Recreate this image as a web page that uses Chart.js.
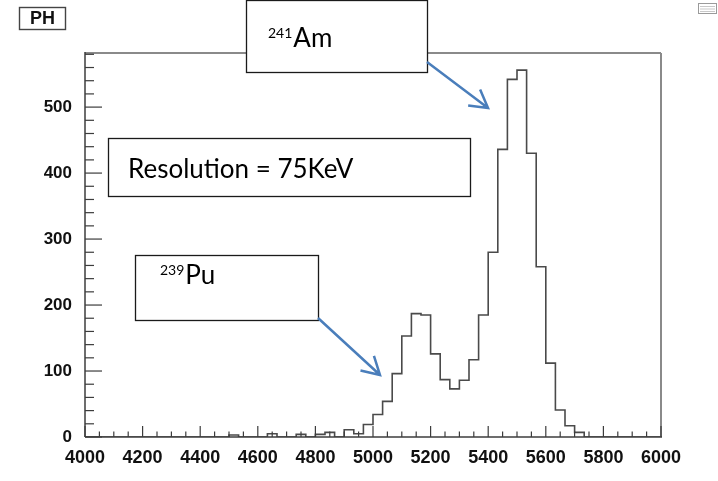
<!DOCTYPE html>
<html>
<head>
<meta charset="utf-8">
<title>PH</title>
<script src="https://cdn.jsdelivr.net/npm/chart.js@4.4.1/dist/chart.umd.min.js"></script>
<style>
  html, body { margin: 0; padding: 0; background: #fff; }
  #wrap { width: 718px; height: 481px; }
</style>
</head>
<body>
<div id="wrap"><canvas id="phChart" width="718" height="481"></canvas></div>
<script>
// pulse height histogram: 60 bins between 4000 and 6000
const binLow = 4000;
const binHigh = 6000;
const counts = [
  0, 0, 0, 0, 0, 0, 0, 0, 0, 0,
  0, 0, 0, 0, 0, 3, 0, 0, 0, 5,
  0, 0, 4, 0, 4, 7, 0, 11, 5, 19,
  34, 54, 96, 153, 187, 185, 126, 87, 73, 86,
  117, 185, 280, 436, 542, 556, 430, 258, 112, 41,
  17, 7, 0, 0, 0, 0, 0, 0, 0, 0
];
const xLabels = [4000, 4200, 4400, 4600, 4800, 5000, 5200, 5400, 5600, 5800, 6000];
const yLabels = [0, 100, 200, 300, 400, 500];
const yTop = 582;

// left edge of each bin, plus the closing edge so the last step gets drawn
const binWidth = (binHigh - binLow) / counts.length;
const points = counts.map((c, i) => ({ x: binLow + i * binWidth, y: c }));
points.push({ x: binHigh, y: counts[counts.length - 1] });

const AXIS_FONT = 'Liberation Sans, Arial, sans-serif';
const BOX_FONT = 'Lato, Carlito, sans-serif';

function line(ctx, x1, y1, x2, y2) {
  ctx.beginPath();
  ctx.moveTo(x1, y1);
  ctx.lineTo(x2, y2);
  ctx.stroke();
}

// ROOT style frame with ticks pointing inwards
const rootFrame = {
  id: 'rootFrame',
  afterDatasetsDraw(chart) {
    const { ctx, chartArea: a, scales: { x, y } } = chart;
    ctx.save();
    ctx.lineCap = 'butt';
    ctx.strokeStyle = '#8a8a8a';
    ctx.lineWidth = 2;
    line(ctx, a.left, a.top, a.right, a.top);
    line(ctx, a.right, a.top, a.right, a.bottom);
    ctx.strokeStyle = '#3c3c3c';
    ctx.lineWidth = 1.5;
    line(ctx, a.left, a.top - 1, a.left, a.bottom);
    line(ctx, a.left, a.bottom, a.right + 1, a.bottom);

    ctx.lineWidth = 1.2;
    x.ticks.forEach(t => {
      const px = x.getPixelForValue(t.value);
      const len = xLabels.includes(t.value) ? 11 : 5.5;
      line(ctx, px, a.bottom, px, a.bottom - len);
    });
    y.ticks.forEach(t => {
      const py = y.getPixelForValue(t.value);
      const len = yLabels.includes(t.value) ? 17 : 9;
      line(ctx, a.left, py, a.left + len, py);
    });
    ctx.restore();
  }
};

function arrow(ctx, x1, y1, x2, y2) {
  const ang = Math.atan2(y2 - y1, x2 - x1);
  const head = 20;
  ctx.beginPath();
  ctx.moveTo(x1, y1);
  ctx.lineTo(x2, y2);
  ctx.moveTo(x2 - head * Math.cos(ang - 0.52), y2 - head * Math.sin(ang - 0.52));
  ctx.lineTo(x2, y2);
  ctx.lineTo(x2 - head * Math.cos(ang + 0.52), y2 - head * Math.sin(ang + 0.52));
  ctx.stroke();
}

function box(ctx, x, y, w, h) {
  ctx.fillStyle = '#fff';
  ctx.fillRect(x, y, w, h);
  ctx.strokeRect(x, y, w, h);
  ctx.fillStyle = '#000';
}

// isotope label: mass number raised in front of the element symbol
function isotope(ctx, mass, symbol, x, base) {
  ctx.font = '14px ' + BOX_FONT;
  ctx.fillText(mass, x, base - 9);
  const w = ctx.measureText(mass).width;
  ctx.font = '26px ' + BOX_FONT;
  ctx.fillText(symbol, x + w + 1, base);
}

// title box, stats stub and the text boxes with arrows
const notes = {
  id: 'notes',
  afterDraw(chart) {
    const ctx = chart.ctx;
    ctx.save();

    ctx.strokeStyle = '#444';
    ctx.lineWidth = 1.4;
    box(ctx, 19.5, 7.5, 46, 22);
    ctx.fillStyle = '#111';
    ctx.font = 'bold 18px ' + AXIS_FONT;
    ctx.textAlign = 'center';
    ctx.textBaseline = 'middle';
    ctx.fillText('PH', 42.5, 19);

    // tiny stats pad in the corner
    ctx.strokeStyle = '#9a9a9a';
    ctx.lineWidth = 1;
    box(ctx, 698.5, 3.5, 18, 10);
    ctx.strokeStyle = '#c8c8c8';
    line(ctx, 700, 6.5, 715, 6.5);
    line(ctx, 700, 9, 715, 9);
    line(ctx, 700, 11.5, 715, 11.5);

    ctx.textAlign = 'left';
    ctx.textBaseline = 'alphabetic';
    ctx.strokeStyle = '#1a1a1a';
    ctx.lineWidth = 1.3;

    box(ctx, 246.5, 0.5, 181, 72);
    isotope(ctx, '241', 'Am', 268, 47);

    box(ctx, 108.5, 138.5, 362, 58);
    ctx.font = '26px ' + BOX_FONT;
    ctx.fillText('Resolution = 75KeV', 128, 178);

    box(ctx, 135.5, 255.5, 183, 65);
    isotope(ctx, '239', 'Pu', 160, 284);

    ctx.strokeStyle = '#4a7ebb';
    ctx.lineWidth = 2.5;
    ctx.lineJoin = 'miter';
    arrow(ctx, 427, 62, 488, 108);
    arrow(ctx, 318, 318, 380, 375);
    ctx.restore();
  }
};

new Chart(document.getElementById('phChart'), {
  type: 'line',
  data: {
    datasets: [{
      data: points,
      stepped: true,
      borderColor: '#4a4a4a',
      borderWidth: 1.6,
      pointRadius: 0,
      fill: false
    }]
  },
  options: {
    responsive: false,
    animation: false,
    layout: { padding: { top: 53, right: 57, left: 0, bottom: 0 } },
    plugins: { legend: { display: false }, tooltip: { enabled: false } },
    scales: {
      x: {
        type: 'linear',
        min: binLow,
        max: binHigh,
        grid: { display: false },
        border: { display: false },
        ticks: {
          stepSize: 50,
          maxTicksLimit: 1000,
          autoSkip: false,
          maxRotation: 0,
          includeBounds: false,
          padding: 2,
          color: '#111',
          font: { family: AXIS_FONT, size: 18, weight: 'bold' },
          callback: v => xLabels.includes(v) ? String(v) : ''
        },
        afterFit: s => { s.height = 44; }
      },
      y: {
        min: 0,
        max: yTop,
        grid: { display: false },
        border: { display: false },
        ticks: {
          stepSize: 20,
          maxTicksLimit: 1000,
          autoSkip: false,
          includeBounds: false,
          padding: 5,
          color: '#111',
          font: { family: AXIS_FONT, size: 17, weight: 'bold' },
          callback: v => yLabels.includes(v) ? String(v) : ''
        },
        afterFit: s => { s.width = 85; }
      }
    }
  },
  plugins: [rootFrame, notes]
});
</script>
</body>
</html>
